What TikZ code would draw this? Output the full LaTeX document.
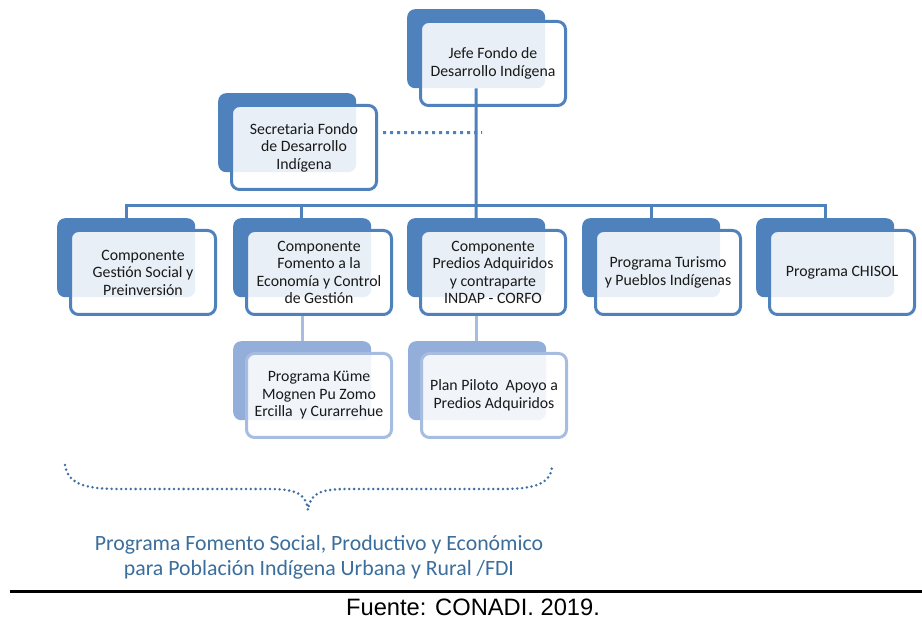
\documentclass[tikz,border=0pt]{standalone}
\usepackage{fontspec}
\setmainfont{Carlito}
\newfontfamily\arialf{Liberation Sans}
\definecolor{dblue}{HTML}{4F81BD}
\definecolor{lblue}{HTML}{93AED8}
\definecolor{lborder}{HTML}{A6BCE0}
\definecolor{titleblue}{HTML}{3B6E9C}
\tikzset{
  backbox/.style={rectangle, rounded corners=8pt, fill=#1, minimum width=138pt, minimum height=79pt, inner sep=0pt, anchor=north west},
  frontbox/.style={rectangle, rounded corners=8pt, draw=#1, line width=3pt, fill=white, fill opacity=0.88, text opacity=1, minimum width=145pt, minimum height=84pt, inner sep=0pt, anchor=north west, align=center, font=\fontsize{15.8}{17.5}\selectfont, text=black!90},
  conn/.style={draw=dblue, line width=3pt},
  lconn/.style={draw=lborder, line width=3pt},
  dotline/.style={draw=dblue, line width=3pt, dash pattern=on 3pt off 4pt},
  bracedots/.style={draw=dblue!85!black, line width=2.8pt, line cap=round, dash pattern=on 0pt off 4.8pt},
}
\newcommand\orgbox[6]{%
  \node[backbox=#5] (#1b) at (#2,#3) {};
  \node[frontbox=#6] (#1) at ({#2+12},{#3+11}) {#4};
}
\begin{document}
\begin{tikzpicture}[x=1pt,y=-1pt]
\useasboundingbox[fill=white] (0,0) rectangle (922,620);
% boxes
\orgbox{j}{407}{9}{Jefe Fondo de\\Desarrollo Indígena}{dblue}{dblue}
\orgbox{s}{218}{93}{Secretaria Fondo\\de Desarrollo\\Indígena}{dblue}{dblue}
% connectors drawn before level boxes
\draw[conn] (jb.south) -- (476,218);
\draw[conn] (126.5,218) -- (126.5,206) -- (825,206) -- (825,218);
\draw[conn] (301.5,206) -- (301.5,218);
\draw[conn] (651,206) -- (651,218);
\orgbox{c1}{57}{218}{Componente\\Gestión Social y\\Preinversión}{dblue}{dblue}
\orgbox{c2}{233}{218}{Componente\\Fomento a la\\Economía y Control\\de Gestión}{dblue}{dblue}
\orgbox{c3}{407}{218}{Componente\\Predios Adquiridos\\y contraparte\\INDAP - CORFO}{dblue}{dblue}
\orgbox{c4}{582}{218}{Programa Turismo\\y Pueblos Indígenas}{dblue}{dblue}
\orgbox{c5}{756}{218}{Programa CHISOL}{dblue}{dblue}
\draw[lconn] (c2b.south |- c2.south) -- ++(0,27) coordinate (p1top);
\draw[lconn] (c3b.south |- c3.south) -- ++(0,27) coordinate (p2top);
\orgbox{p1}{233}{341}{Programa Küme\\Mognen Pu Zomo\\Ercilla\ \ y Curarrehue}{lblue}{lborder}
\orgbox{p2}{408}{341}{Plan Piloto\ \ Apoyo a\\Predios Adquiridos}{lblue}{lborder}
% dotted link secretaria -> trunk
\draw[dotline] ([xshift=5pt]s.east |- sb.center) -- (482,132.5);
% brace
\draw[bracedots] (65,465) .. controls (68,486) and (90,489) .. (120,489)
  -- (270,489) .. controls (298,489) and (306,495) .. (308,510)
  .. controls (310,495) and (318,489) .. (346,489)
  -- (500,489) .. controls (530,489) and (550,486) .. (552,467);
\node[font=\fontsize{21.8}{25}\selectfont, text=titleblue, align=center] (title) at (319,557) {Programa Fomento Social, Productivo y Económico\\para Población Indígena Urbana y Rural /FDI};
\draw[line width=3pt, black] (10,591) -- (922,591);
\node[font=\arialf\fontsize{23.7}{26}\selectfont, inner sep=0pt] (src) at (473,607) {Fuente: CONADI. 2019.};
\end{tikzpicture}
\end{document}
